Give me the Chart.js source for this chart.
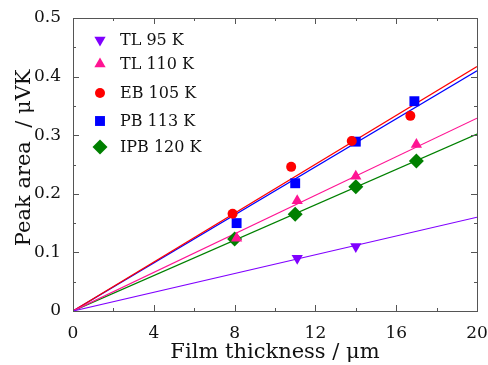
<!DOCTYPE html>
<html>
<head>
<meta charset="utf-8">
<script src="https://cdn.jsdelivr.net/npm/chart.js@4/dist/chart.umd.min.js"></script>
<style>
  html,body{margin:0;padding:0;background:#fff}
  #wrap{width:488px;height:365px}
</style>
</head>
<body>
<div id="wrap"><canvas id="c" width="488" height="365"></canvas></div>
<script>
// measured points (film thickness µm, peak area µVK)
const TL95_X  = [11.1, 14.0]
const TL95_Y  = [0.090, 0.110]
const TL110_X = [8.1, 11.1, 14.0, 17.0]
const TL110_Y = [0.124, 0.188, 0.230, 0.284]
const EB105_X = [7.9, 10.8, 13.8, 16.7]
const EB105_Y = [0.166, 0.246, 0.290, 0.333]
const PB113_X = [8.1, 11.0, 14.0, 16.9]
const PB113_Y = [0.150, 0.218, 0.289, 0.358]
const IPB120_X = [8.0, 11.0, 14.0, 17.0]
const IPB120_Y = [0.123, 0.165, 0.212, 0.256]

// linear fits through origin: value at x = 20
const FIT_X = [0, 20]
const FIT_END = { tl95:0.160, tl110:0.329, eb105:0.417, pb113:0.410, ipb120:0.302 }

const SERIES = [
  {label:'TL 95 K',   x:TL95_X,   y:TL95_Y,   fit:FIT_END.tl95,   color:'#8000ff', style:'triangle', r:6.5, rot:180},
  {label:'TL 110 K',  x:TL110_X,  y:TL110_Y,  fit:FIT_END.tl110,  color:'#ff1493', style:'triangle', r:6.5, rot:0},
  {label:'EB 105 K',  x:EB105_X,  y:EB105_Y,  fit:FIT_END.eb105,  color:'#ff0000', style:'circle',   r:5,   rot:0},
  {label:'PB 113 K',  x:PB113_X,  y:PB113_Y,  fit:FIT_END.pb113,  color:'#0000ff', style:'rect',     r:7,   rot:0},
  {label:'IPB 120 K', x:IPB120_X, y:IPB120_Y, fit:FIT_END.ipb120, color:'#008000', style:'rectRot',  r:7.5, rot:0},
]

const X_MAJOR = [0, 4, 8, 12, 16, 20]
const Y_MAJOR = [0, 0.1, 0.2, 0.3, 0.4, 0.5]

const FONT = '"DejaVu Serif", "Liberation Serif", serif'

const datasets = []
SERIES.forEach(s => {
  datasets.push({
    type:'line', label:s.label+' fit', order:2,
    data:FIT_X.map((x,i)=>({x, y: i ? s.fit : 0})),
    borderColor:s.color, borderWidth:1.2, pointRadius:0, fill:false, tension:0
  })
})
SERIES.forEach(s => {
  datasets.push({
    type:'scatter', label:s.label, order:1,
    data:s.x.map((x,i)=>({x, y:s.y[i]})),
    backgroundColor:s.color, borderColor:s.color, borderWidth:0,
    pointStyle:s.style, pointRadius:s.r, pointRotation:s.rot, pointHoverRadius:s.r
  })
})

// inside ticks on all four sides + legend in the plot
const decor = {
  id:'decor',
  afterDatasetsDraw(chart){
    const {ctx, chartArea:a, scales:{x, y}} = chart
    ctx.save()
    ctx.strokeStyle = '#555'
    ctx.lineWidth = 1
    ctx.strokeRect(a.left+0.5, a.top+0.5, a.right-a.left, a.bottom-a.top)
    ctx.beginPath()
    for (let v=0; v<=20.001; v+=2){
      const px = Math.round(x.getPixelForValue(v))+0.5
      const len = (Math.round(v)%4===0) ? 6 : 3
      ctx.moveTo(px, a.bottom); ctx.lineTo(px, a.bottom-len)
      ctx.moveTo(px, a.top); ctx.lineTo(px, a.top+len)
    }
    for (let i=0; i<=10; i++){
      const py = Math.round(y.getPixelForValue(i*0.05))+0.5
      const len = (i%2===0) ? 6 : 3
      ctx.moveTo(a.left, py); ctx.lineTo(a.left+len, py)
      ctx.moveTo(a.right, py); ctx.lineTo(a.right-len, py)
    }
    ctx.stroke()

    const rows = [40, 64, 93, 121, 147]
    ctx.font = '16px ' + FONT
    ctx.textBaseline = 'middle'
    SERIES.forEach((s,i) => {
      ctx.fillStyle = s.color
      ctx.strokeStyle = s.color
      Chart.helpers.drawPoint(ctx, {pointStyle:s.style, radius:s.r, rotation:s.rot, borderWidth:0}, 100, rows[i])
      ctx.fillStyle = '#111'
      ctx.fillText(s.label, 120, rows[i]+1)
    })
    ctx.restore()
  }
}

new Chart(document.getElementById('c'), {
  data:{datasets},
  options:{
    responsive:false, animation:false,
    layout:{padding:{left:0, right:11, top:18, bottom:0}},
    plugins:{legend:{display:false}, tooltip:{enabled:false}},
    scales:{
      x:{
        type:'linear', min:0, max:20,
        afterFit: s => { s.height = 54; s.paddingRight = 0; s.paddingLeft = 0 },
        afterBuildTicks: s => { s.ticks = X_MAJOR.map(v=>({value:v})) },
        grid:{display:false}, border:{display:false},
        ticks:{color:'#111', font:{family:FONT, size:17}, padding:4, maxRotation:0},
        title:{display:true, text:'Film thickness / μm', color:'#111', font:{family:FONT, size:21}, padding:{top:4, bottom:0}}
      },
      y:{
        type:'linear', min:0, max:0.5,
        afterFit: s => { s.width = 73; s.paddingTop = 0; s.paddingBottom = 0 },
        afterBuildTicks: s => { s.ticks = Y_MAJOR.map(v=>({value:v})) },
        grid:{display:false}, border:{display:false},
        ticks:{color:'#111', font:{family:FONT, size:17}, padding:4, callback:v=>String(+v.toFixed(1))},
        title:{display:true, text:'  Peak area  / μVK', color:'#111', font:{family:FONT, size:21}, padding:{top:12, bottom:0}}
      }
    }
  },
  plugins:[decor]
})
</script>
</body>
</html>
